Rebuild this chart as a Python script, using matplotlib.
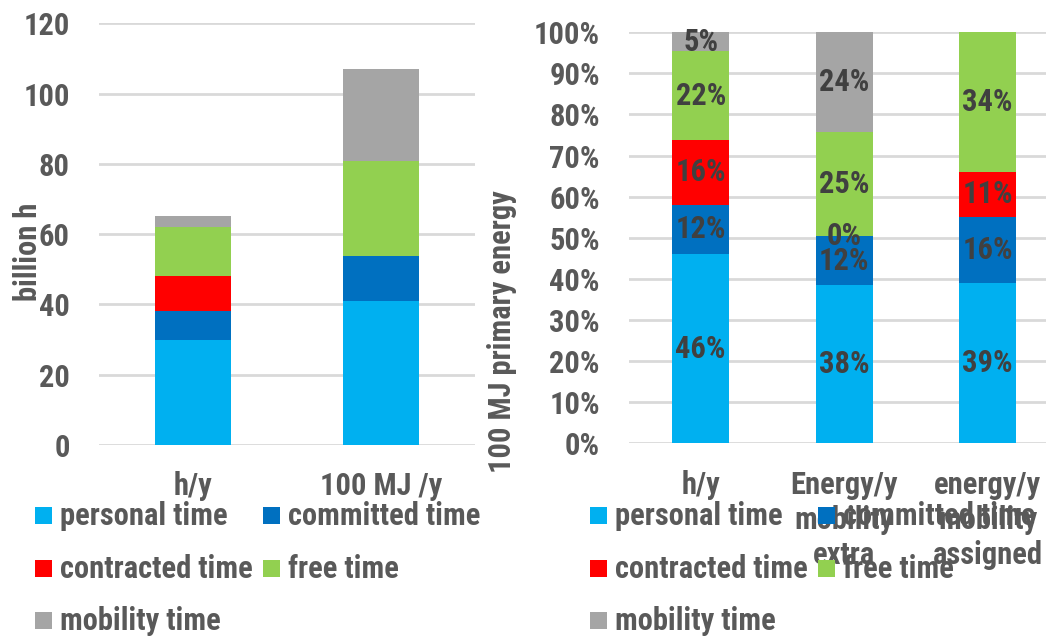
import numpy as np
import matplotlib.pyplot as plt
from matplotlib.patches import Rectangle

# left panel: billion hours per year
groups_left = ['h/y', '100 MJ /y']
personal = [30, 41]
committed = [8, 12.8]
contracted = [10, 0]
free = [14, 27]
mobility = [3.2, 26.2]

# right panel: shares in percent (None = no segment)
groups_right = ['h/y', 'Energy/y\nmobility\nextra', 'energy/y\nmobility\nassigned']
share_personal = [46.0, 38.5, 38.9]
share_committed = [12.1, 11.9, 16.2]
share_contracted = [15.7, 0.0, 10.9]
share_free = [21.6, 25.4, 34.0]
share_mobility = [4.6, 24.2, None]

series_names = ['personal time', 'committed time', 'contracted time', 'free time', 'mobility time']
colors = ['#00B0F0', '#0070C0', '#FF0000', '#92D050', '#A5A5A5']

W, H = 1046, 636
plt.rcParams['font.family'] = ['Roboto Condensed', 'DejaVu Sans']
plt.rcParams['font.weight'] = 'bold'
FS = 22
TXT = '#595959'

fig = plt.figure(figsize=(W / 100, H / 100), dpi=100)


def px_axes(x0, y0, x1, y1):
    # axes from pixel box (top-left origin)
    return fig.add_axes([x0 / W, 1 - y1 / H, (x1 - x0) / W, (y1 - y0) / H])


def style(ax):
    for s in ax.spines.values():
        s.set_visible(False)
    ax.set_axisbelow(True)
    ax.yaxis.grid(True, color='#D9D9D9', lw=2)
    ax.tick_params(length=0, labelsize=FS, labelcolor=TXT, pad=21)


# ---- left: absolute stacked bars
ax1 = px_axes(99, 23.3, 475, 445)
stack = [personal, committed, contracted, free, mobility]
x = np.arange(len(groups_left))
bottom = np.zeros(len(groups_left))
for vals, c in zip(stack, colors):
    ax1.bar(x, vals, 0.404, bottom=bottom, color=c)
    bottom += np.array(vals, dtype=float)
ax1.set_xlim(-0.5, len(groups_left) - 0.5)
ax1.set_ylim(0, 120)
ax1.set_yticks(range(0, 121, 20))
ax1.set_xticks(x, groups_left)
style(ax1)
ax1.tick_params(axis='x', pad=19)
fig.text(28 / W, 1 - 252 / H, 'billion h', rotation=90, ha='center', va='center',
         fontsize=FS, color=TXT)

# ---- right: 100% stacked bars
ax2 = px_axes(629, 32.3, 1059.5, 443.3)
shares = [share_personal, share_committed, share_contracted, share_free, share_mobility]
shares = np.array([[np.nan if v is None else v for v in row] for row in shares])
totals = np.nansum(shares, axis=0)
frac = shares / totals
xr = np.arange(len(groups_right))
bottom = np.zeros(len(groups_right))
for row, c in zip(frac, colors):
    h = np.nan_to_num(row)
    ax2.bar(xr, h, 0.4, bottom=bottom, color=c)
    for xi, v, b in zip(xr, row, bottom):
        if np.isnan(v):
            continue
        ax2.text(xi, b + v / 2, f'{v * 100:.0f}%', ha='center', va='center',
                 fontsize=FS, color='#404040')
    bottom += h
ax2.set_xlim(-0.5, len(groups_right) - 0.5)
ax2.set_ylim(0, 1)
ax2.set_yticks(np.linspace(0, 1, 11))
ax2.set_yticklabels([f'{v}%' for v in range(0, 101, 10)])
ax2.set_xticks(xr, groups_right, linespacing=1.22)
style(ax2)
ax2.tick_params(axis='x', pad=19)
fig.text(502 / W, 1 - 332 / H, '100 MJ primary energy', rotation=90, ha='center',
         va='center', fontsize=FS, color=TXT)


# ---- legends drawn below each panel, two entries per row
def draw_legend(x0, col_dx, rows_y):
    for i, (name, c) in enumerate(zip(series_names, colors)):
        col, row = i % 2, i // 2
        xl = x0 + col * col_dx
        yc = rows_y[row]
        fig.add_artist(Rectangle((xl / W, 1 - (yc + 8.5) / H), 17 / W, 17 / H,
                                 transform=fig.transFigure, color=c, lw=0))
        fig.text((xl + 25) / W, 1 - (yc + 10) / H, name, ha='left', va='baseline',
                 fontsize=FS, color=TXT)


draw_legend(35, 228, [515, 568, 620])
draw_legend(590, 228, [515, 568, 620])

fig.savefig('out.png', dpi=100)
